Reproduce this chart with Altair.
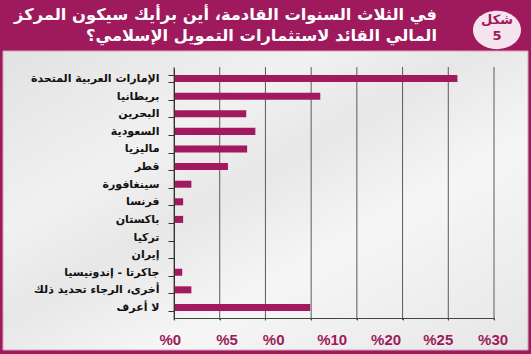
import altair as alt
import pandas as pd

# ---- data ----
categories = [
    "الإمارات العربية المتحدة",
    "بريطانيا",
    "البحرين",
    "السعودية",
    "ماليزيا",
    "قطر",
    "سينغافورة",
    "فرنسا",
    "باكستان",
    "تركيا",
    "إيران",
    "جاكرتا - إندونيسيا",
    "أخرى، الرجاء تحديد ذلك",
    "لا أعرف",
]
values = [31.0, 16.0, 7.9, 8.9, 8.0, 5.9, 1.9, 1.0, 1.0, 0.0, 0.0, 0.9, 1.9, 14.9]
grid_values = [0, 5, 10, 15, 20, 25, 30, 35]
tick_label_values = [-0.4, 5.8, 10.9, 17.3, 23.2, 28.9, 34.9]
tick_labels = ["%0", "%5", "%0", "%10", "%20", "%25", "%30"]
title_lines = [
    "في الثلاث السنوات القادمة، أين برأيك سيكون المركز",
    "المالي القائد لاستثمارات التمويل الإسلامي؟",
]
badge_lines = ["شكل", "5"]

MAGENTA = "#9e1a5c"
BAR = "#a3195f"
AR_FONT = "DejaVu Sans"

W, H = 320, 250
LEFT, TOP, RIGHT, BOTTOM = 174, 68, 37, 36

xscale = alt.Scale(domain=[0, 35], nice=False, zero=True)
xaxis = alt.Axis(title=None, labels=False, grid=False, values=grid_values,
                 ticks=True, tickSize=2, tickColor="#444", domainColor="#444",
                 zindex=1)

bars_df = pd.DataFrame({"country": categories, "value": values})
grid_df = pd.DataFrame({"value": grid_values})
ticklab_df = pd.DataFrame({"value": tick_label_values, "label": tick_labels})
one = pd.DataFrame({"k": [0]})

panel = alt.Chart(one).mark_rect(
    fill=alt.Gradient(
        gradient="linear", x1=0, y1=0, x2=1, y2=1,
        stops=[
            alt.GradientStop(offset=0, color="#e2e2e2"),
            alt.GradientStop(offset=0.3, color="#f1f1f1"),
            alt.GradientStop(offset=0.45, color="#e7e7e7"),
            alt.GradientStop(offset=0.65, color="#f6f6f6"),
            alt.GradientStop(offset=1, color="#e6e6e6"),
        ],
    ),
    stroke="#d7a3c0", strokeWidth=1,
).encode(
    x=alt.value(3 - LEFT), x2=alt.value(528 - LEFT),
    y=alt.value(51 - TOP), y2=alt.value(350 - TOP),
)

grid = alt.Chart(grid_df).mark_rule(color="#5a5a5a", strokeWidth=1).encode(
    x=alt.X("value:Q", scale=xscale, axis=xaxis),
    y=alt.value(-1), y2=alt.value(H + 2),
)

bars = alt.Chart(bars_df).mark_bar(color=BAR).encode(
    x=alt.X("value:Q", scale=xscale, axis=xaxis),
    y=alt.Y("country:N", sort=categories,
            scale=alt.Scale(paddingInner=0.6, paddingOuter=0.4),
            axis=alt.Axis(title=None, tickBand="extent", tickSize=6,
                          tickColor="#333", domainColor="#333",
                          labelFont=AR_FONT, labelFontWeight="bold",
                          labelFontSize=11, labelColor="#111",
                          labelPadding=9, zindex=1)),
)

xlabels = alt.Chart(ticklab_df).mark_text(
    font="Liberation Sans", fontWeight="bold", fontSize=15, color=MAGENTA,
    baseline="middle", align="center",
).encode(
    x=alt.X("value:Q", scale=xscale, axis=xaxis),
    y=alt.value(340 - TOP),
    text="label:N",
)

title = alt.Chart(pd.DataFrame({"t": ["\n".join(title_lines)]})).mark_text(
    font=AR_FONT, fontWeight="bold", fontSize=16.3, color="white",
    align="right", baseline="alphabetic", lineBreak="\n", lineHeight=21,
).encode(x=alt.value(437 - LEFT), y=alt.value(20 - TOP), text="t:N")

badge = alt.Chart(one).mark_point(
    shape="M-1,0A1,0.8,0,1,1,1,0A1,0.8,0,1,1,-1,0Z",
    filled=True, fill="#f5e4ed", opacity=1, size=2300, strokeWidth=0,
).encode(x=alt.value(497 - LEFT), y=alt.value(30 - TOP))

badge_text = alt.Chart(pd.DataFrame({"t": ["\n".join(badge_lines)]})).mark_text(
    font=AR_FONT, fontWeight="bold", fontSize=13, color=MAGENTA,
    align="center", baseline="alphabetic", lineBreak="\n", lineHeight=16,
).encode(x=alt.value(497 - LEFT), y=alt.value(24 - TOP), text="t:N")

chart = alt.layer(panel, grid, bars, xlabels, title, badge, badge_text).properties(
    width=W, height=H,
    autosize=alt.AutoSizeParams(type="none"),
    padding={"left": LEFT, "top": TOP, "right": RIGHT, "bottom": BOTTOM},
    background=MAGENTA,
).configure_view(stroke=None)

chart.save("out.html", embed_options={"renderer": "svg", "actions": False})
